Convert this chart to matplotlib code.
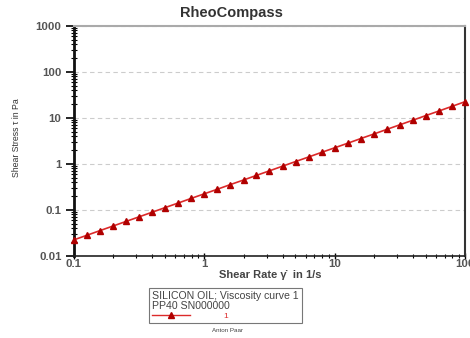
import matplotlib
matplotlib.use("Agg")
import matplotlib.pyplot as plt
from matplotlib.ticker import LogLocator, NullFormatter, FixedLocator, FixedFormatter
from matplotlib.lines import Line2D

plt.rcParams['font.family'] = ['Liberation Sans', 'DejaVu Sans']

shear_rate = [0.1, 0.126, 0.158, 0.2, 0.251, 0.316, 0.398, 0.501, 0.631, 0.794,
              1.0, 1.26, 1.58, 2.0, 2.51, 3.16, 3.98, 5.01, 6.31, 7.94,
              10.0, 12.6, 15.8, 20.0, 25.1, 31.6, 39.8, 50.1, 63.1, 79.4, 100.0]
shear_stress = [0.0225, 0.0283, 0.0356, 0.045, 0.0565, 0.0711, 0.0895, 0.113, 0.142, 0.179,
                0.225, 0.283, 0.356, 0.449, 0.565, 0.711, 0.896, 1.13, 1.42, 1.79,
                2.25, 2.83, 3.56, 4.49, 5.65, 7.11, 8.95, 11.3, 14.2, 17.9, 22.6]
x_ticks = [0.1, 1, 10, 100]
x_tick_labels = ["0.1", "1", "10", "100"]
y_ticks = [0.01, 0.1, 1, 10, 100, 1000]
y_tick_labels = ["0.01", "0.1", "1", "10", "100", "1000"]

fig = plt.figure(figsize=(4.7, 3.38), dpi=100)
ax = fig.add_axes([74/470, 1-256/338, (465-74)/470, (256-26)/338])

ax.plot(shear_rate, shear_stress, color='#dc2a2a', lw=1.2, marker='^', ms=4.3,
        markerfacecolor='#b00000', markeredgecolor='#b00000', clip_on=False, zorder=5)

ax.set_xscale('log')
ax.set_yscale('log')
ax.set_xlim(0.1, 100)
ax.set_ylim(0.01, 1000)

ax.xaxis.set_major_locator(FixedLocator(x_ticks))
ax.xaxis.set_major_formatter(FixedFormatter(x_tick_labels))
ax.yaxis.set_major_locator(FixedLocator(y_ticks))
ax.yaxis.set_major_formatter(FixedFormatter(y_tick_labels))
ax.xaxis.set_minor_locator(LogLocator(base=10, subs=range(2, 10)))
ax.yaxis.set_minor_locator(LogLocator(base=10, subs=range(2, 10)))
ax.xaxis.set_minor_formatter(NullFormatter())
ax.yaxis.set_minor_formatter(NullFormatter())

ax.tick_params(axis='y', which='major', direction='out', length=6, width=1.2,
               labelsize=8.2, labelcolor='#555555', pad=3)
ax.tick_params(axis='y', which='minor', direction='inout', length=4, width=0.8)
ax.tick_params(axis='x', which='major', direction='inout', length=5, width=1.0,
               labelsize=8.2, labelcolor='#555555', pad=0)
ax.tick_params(axis='x', which='minor', direction='inout', length=3, width=0.8)
for lab in ax.get_xticklabels() + ax.get_yticklabels():
    lab.set_fontweight('bold')

ax.grid(True, axis='y', which='major', linestyle=(0, (4, 3)), color='#cccccc', lw=0.8)
ax.set_axisbelow(True)

ax.spines['left'].set_linewidth(2.0)
ax.spines['left'].set_color('#111111')
ax.spines['bottom'].set_linewidth(1.2)
ax.spines['bottom'].set_color('#222222')
ax.spines['top'].set_linewidth(1.5)
ax.spines['top'].set_color('#aaaaaa')
ax.spines['right'].set_linewidth(1.5)
ax.spines['right'].set_color('#333333')

fig.text(231/470, 1-13/338, "RheoCompass", ha='center', va='center',
         fontsize=10.5, fontweight='bold', color='#333333')
fig.text(270/470, 1-275/338, "Shear Rate \u03b3\u0307  in 1/s", ha='center', va='center',
         fontsize=8, fontweight='bold', color='#444444')
fig.text(17/470, 1-138/338, "Shear Stress \u03c4 in Pa", ha='center', va='center',
         rotation=90, fontsize=6.3, color='#333333', fontstretch='condensed')

handle = Line2D([], [], color='#dc2a2a', lw=1.0, marker='^', ms=4,
                markerfacecolor='#b00000', markeredgecolor='#b00000')
leg = fig.legend([handle], ["1"], loc='upper left', bbox_to_anchor=(145/470, 1-284/338),
                 title="SILICON OIL; Viscosity curve 1\nPP40 SN000000",
                 title_fontsize=7.6, fontsize=6, frameon=True, fancybox=False,
                 edgecolor='#555555', handlelength=4.5, handletextpad=4,
                 borderpad=0.35, alignment='left', labelspacing=0.2)
leg.get_frame().set_linewidth(0.8)
leg.get_title().set_color('#444444')
leg.get_title().set_linespacing(0.95)
for t in leg.get_texts():
    t.set_color('#dc2a2a')

fig.text(227/470, 1-331/338, "Anton Paar", ha='center', va='center',
         fontsize=4.5, color='#444444')

fig.savefig("out.png", dpi=100)
